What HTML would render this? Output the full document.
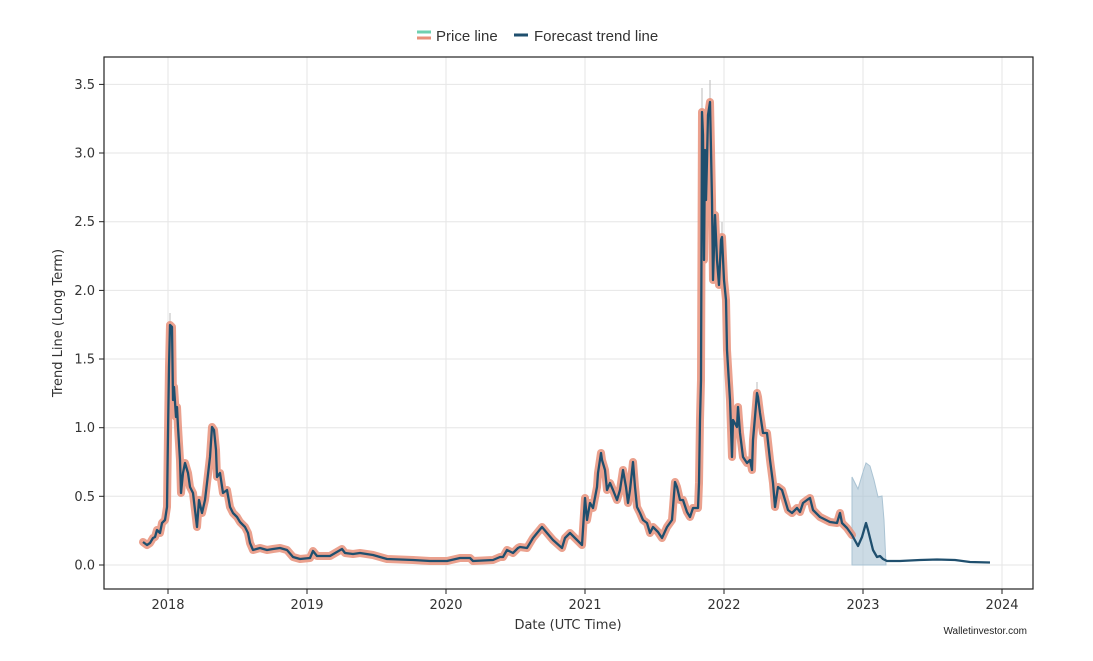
<!DOCTYPE html>
<html><head><meta charset="utf-8"><style>
html,body{margin:0;padding:0;background:#fff;}
svg{display:block;}
.tk{font-family:"DejaVu Sans","Liberation Sans",sans-serif;font-size:13px;fill:#333;}
.lg{font-family:"Liberation Sans",sans-serif;font-size:15px;fill:#333;}
</style></head><body>
<svg width="1093" height="661" viewBox="0 0 1093 661" xmlns="http://www.w3.org/2000/svg">
<rect width="1093" height="661" fill="#fff"/>
<!-- grid -->
<g stroke="#e6e6e6" stroke-width="1">
<line x1="168" y1="57" x2="168" y2="589"/><line x1="307" y1="57" x2="307" y2="589"/><line x1="446" y1="57" x2="446" y2="589"/><line x1="585" y1="57" x2="585" y2="589"/><line x1="724" y1="57" x2="724" y2="589"/><line x1="863" y1="57" x2="863" y2="589"/><line x1="1002" y1="57" x2="1002" y2="589"/>
<line x1="104" y1="565" x2="1033" y2="565"/><line x1="104" y1="496.3" x2="1033" y2="496.3"/><line x1="104" y1="427.7" x2="1033" y2="427.7"/><line x1="104" y1="359" x2="1033" y2="359"/><line x1="104" y1="290.4" x2="1033" y2="290.4"/><line x1="104" y1="221.7" x2="1033" y2="221.7"/><line x1="104" y1="153" x2="1033" y2="153"/><line x1="104" y1="84.4" x2="1033" y2="84.4"/>
</g>
<!-- forecast band -->
<polygon points="852,565 852,477 858,489 863,472 866,463 870,466 874,480 878,497 882,496 884,520 886,565" fill="#aac3d3" fill-opacity="0.6" stroke="#aac3d3" stroke-width="1"/>
<!-- wicks -->
<g stroke="#bbb" stroke-width="1">
<line x1="170" y1="313" x2="170" y2="326"/><line x1="702" y1="88" x2="702" y2="112"/><line x1="710" y1="80" x2="710" y2="102"/><line x1="722" y1="222" x2="722" y2="237"/><line x1="757" y1="382" x2="757" y2="393"/>
</g>
<!-- price line -->
<polyline fill="none" stroke="#e8907a" stroke-opacity="0.85" stroke-width="8" stroke-linejoin="round" stroke-linecap="round" points="143,542 147,545 150,543 153,538 155,537 157,530 160,533 162,523 165,520 167,507 168,433 169,367 170,325 172,327 173,400 174,387 176,417 177,407 178,427 180,460 181,493 183,473 185,463 188,473 190,487 193,493 195,510 197,527 199,500 202,513 205,500 207,483 210,457 212,427 214,430 216,450 217,477 220,473 223,493 227,490 230,507 233,513 237,517 240,522 245,527 248,533 250,543 253,550 260,548 267,550 273,549 280,548 287,550 293,557 300,559 310,558 313,551 317,556 330,556 342,549 345,553 353,554 360,553 373,555 380,557 387,559 413,560 430,561 447,561 460,558 470,558 473,561 493,560 500,557 503,557 507,550 513,553 518,548 520,547 527,548 533,538 542,527 547,533 553,540 562,548 565,538 570,533 577,540 582,545 585,498 587,520 590,503 593,508 597,487 598,473 601,453 602,460 605,470 607,490 610,483 613,490 617,500 620,490 623,470 626,487 628,503 630,490 633,462 635,487 637,507 640,513 643,520 647,523 650,533 653,527 658,532 662,538 667,527 672,520 675,482 677,487 680,500 683,500 687,512 690,517 693,508 698,508 699,483 700,420 701,380 702,112 703,135 704,260 705,150 706,200 707,160 708,115 710,102 711,150 712,200 713,280 715,215 717,260 719,285 721,240 722,237 724,280 726,300 727,350 730,400 732,457 733,420 737,427 738,407 740,433 743,457 747,463 750,460 752,470 753,440 755,417 757,393 758,397 760,413 763,433 767,433 770,460 773,483 775,507 778,487 782,490 785,500 788,510 792,513 797,508 800,512 803,503 807,500 810,498 813,510 820,517 830,522 837,523 840,513 842,523 847,528 852,535"/>
<polyline fill="none" stroke="#1f4f6e" stroke-width="2.3" stroke-linejoin="round" points="143,542 147,545 150,543 153,538 155,537 157,530 160,533 162,523 165,520 167,507 168,433 169,367 170,325 172,327 173,400 174,387 176,417 177,407 178,427 180,460 181,493 183,473 185,463 188,473 190,487 193,493 195,510 197,527 199,500 202,513 205,500 207,483 210,457 212,427 214,430 216,450 217,477 220,473 223,493 227,490 230,507 233,513 237,517 240,522 245,527 248,533 250,543 253,550 260,548 267,550 273,549 280,548 287,550 293,557 300,559 310,558 313,551 317,556 330,556 342,549 345,553 353,554 360,553 373,555 380,557 387,559 413,560 430,561 447,561 460,558 470,558 473,561 493,560 500,557 503,557 507,550 513,553 518,548 520,547 527,548 533,538 542,527 547,533 553,540 562,548 565,538 570,533 577,540 582,545 585,498 587,520 590,503 593,508 597,487 598,473 601,453 602,460 605,470 607,490 610,483 613,490 617,500 620,490 623,470 626,487 628,503 630,490 633,462 635,487 637,507 640,513 643,520 647,523 650,533 653,527 658,532 662,538 667,527 672,520 675,482 677,487 680,500 683,500 687,512 690,517 693,508 698,508 699,483 700,420 701,380 702,112 703,135 704,260 705,150 706,200 707,160 708,115 710,102 711,150 712,200 713,280 715,215 717,260 719,285 721,240 722,237 724,280 726,300 727,350 730,400 732,457 733,420 737,427 738,407 740,433 743,457 747,463 750,460 752,470 753,440 755,417 757,393 758,397 760,413 763,433 767,433 770,460 773,483 775,507 778,487 782,490 785,500 788,510 792,513 797,508 800,512 803,503 807,500 810,498 813,510 820,517 830,522 837,523 840,513 842,523 847,528 852,535 858,546 862,537 866,523 868,530 873,550 877,557 880,556 883,559 887,561 900,561 920,560 937,559.5 955,560 970,562 990,562.5"/>
<!-- spines -->
<rect x="104" y="57" width="929" height="532" fill="none" stroke="#222" stroke-width="1.2"/>
<!-- ticks -->
<g stroke="#222" stroke-width="1">
<line x1="99" y1="565" x2="104" y2="565"/><line x1="99" y1="496.3" x2="104" y2="496.3"/><line x1="99" y1="427.7" x2="104" y2="427.7"/><line x1="99" y1="359" x2="104" y2="359"/><line x1="99" y1="290.4" x2="104" y2="290.4"/><line x1="99" y1="221.7" x2="104" y2="221.7"/><line x1="99" y1="153" x2="104" y2="153"/><line x1="99" y1="84.4" x2="104" y2="84.4"/>
<line x1="168" y1="589" x2="168" y2="594"/><line x1="307" y1="589" x2="307" y2="594"/><line x1="446" y1="589" x2="446" y2="594"/><line x1="585" y1="589" x2="585" y2="594"/><line x1="724" y1="589" x2="724" y2="594"/><line x1="863" y1="589" x2="863" y2="594"/><line x1="1002" y1="589" x2="1002" y2="594"/>
</g>
<g class="tk" text-anchor="end">
<text x="95" y="569.5">0.0</text><text x="95" y="500.8">0.5</text><text x="95" y="432.2">1.0</text><text x="95" y="363.5">1.5</text><text x="95" y="294.9">2.0</text><text x="95" y="226.2">2.5</text><text x="95" y="157.5">3.0</text><text x="95" y="88.9">3.5</text>
</g>
<g class="tk" text-anchor="middle">
<text x="168" y="609">2018</text><text x="307" y="609">2019</text><text x="446" y="609">2020</text><text x="585" y="609">2021</text><text x="724" y="609">2022</text><text x="863" y="609">2023</text><text x="1002" y="609">2024</text>
<text x="568" y="629">Date (UTC Time)</text>
<text transform="translate(62,323) rotate(-90)">Trend Line (Long Term)</text>
</g>
<text x="1027" y="634" text-anchor="end" font-family="Liberation Sans, sans-serif" font-size="10" fill="#222">Walletinvestor.com</text>
<!-- legend -->
<line x1="417" y1="32" x2="431" y2="32" stroke="#6fd0b0" stroke-width="3"/>
<line x1="417" y1="38" x2="431" y2="38" stroke="#e8907a" stroke-width="3"/>
<text x="436" y="41" class="lg">Price line</text>
<line x1="514" y1="35" x2="528" y2="35" stroke="#1f4f6e" stroke-width="3"/>
<text x="534" y="41" class="lg">Forecast trend line</text>
</svg>
</body></html>
